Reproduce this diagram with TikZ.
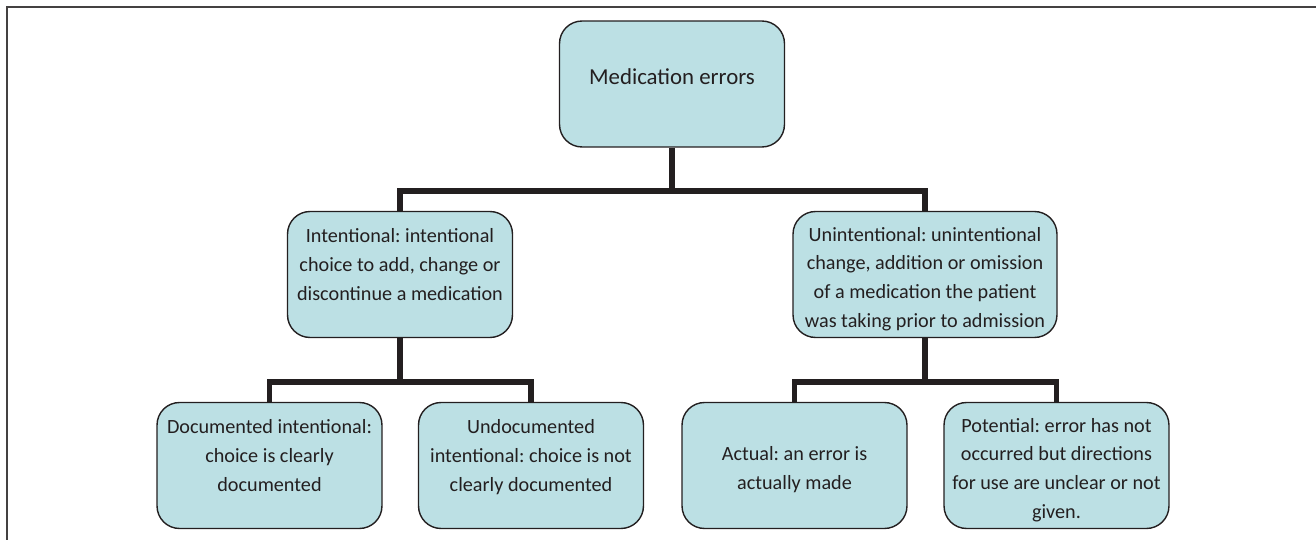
\documentclass[tikz,border=0pt]{standalone}
\usepackage{fontspec}
\setmainfont{Carlito}
\usepackage{xcolor}
\usepackage{tikz}
\usetikzlibrary{positioning}

\definecolor{boxfill}{RGB}{188,224,228}
\definecolor{inkdark}{RGB}{35,31,32}
\newcommand{\lowtop}{\rule{0pt}{13pt}}
\frenchspacing

\begin{document}
\begin{tikzpicture}[x=0.02cm, y=-0.02cm,
  err node/.style={rectangle, rounded corners=0.45cm, draw=inkdark, line width=0.8pt,
    fill=boxfill, text=inkdark, align=center, minimum width=4.5cm, minimum height=2.52cm,
    inner sep=0pt, font=\fontsize{11.5}{16.3}\selectfont},
  link/.style={draw=inkdark, line width=3.4pt},
  frame/.style={draw=inkdark!85, line width=1.3pt}]

\useasboundingbox (0,0) rectangle (1316,540);
\draw[frame] (7,540) -- (7,7) -- (1316,7);

\node[err node, font=\fontsize{13}{16.3}\selectfont] (root) at (672,84) {Medication errors\\[-8pt]~};
\node[err node] (intent) at (400,274.5) {\lowtop Intentional: intentional\\choice to add, change or\\discontinue a medication\\~};
\node[err node, minimum width=5.28cm] (unint) at (925,274.5) {\lowtop Unintentional: unintentional\\change, addition or omission\\of a medication the patient\\was taking prior to admission};
\node[err node] (docu) at (269.5,465.5) {\lowtop Documented intentional:\\choice is clearly\\documented\\~};
\node[err node] (undocu) at (531,465.5) {\lowtop Undocumented\\intentional: choice is not\\clearly documented\\~};
\node[err node] (actual) at (794.5,465.5) {\lowtop Actual: an error is\\actually made};
\node[err node] (potential) at (1056.5,465.5) {\lowtop Potential: error has not\\occurred but directions\\for use are unclear or not\\given.};

\coordinate (split top) at (672,191);
\coordinate (split left) at (400,382);
\coordinate (split right) at (925,382);

\draw[link] (root.south) -- (split top);
\draw[link] (split top) -| (intent.north);
\draw[link] (split top) -| (unint.north);
\draw[link] (intent.south) -- (split left);
\draw[link] (split left) -| (docu.north);
\draw[link] (split left) -| (undocu.north);
\draw[link] (unint.south) -- (split right);
\draw[link] (split right) -| (actual.north);
\draw[link] (split right) -| (potential.north);
\end{tikzpicture}
\end{document}
